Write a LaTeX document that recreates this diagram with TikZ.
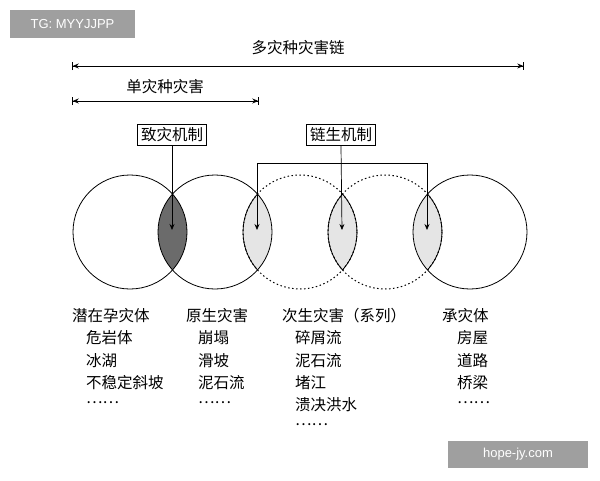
\documentclass[tikz,border=0pt]{standalone}
\usepackage{fontspec}
\setmainfont{Noto Sans CJK SC}
\newfontfamily\wm{Liberation Sans}
\usetikzlibrary{arrows.meta}
\begin{document}
\begin{tikzpicture}[x=1pt,y=-1pt,
  txt/.style={font=\fontsize{15.5}{17}\selectfont,inner sep=0pt,anchor=west},
  mbox/.style={draw,line width=0.8pt,font=\fontsize{15.5}{17}\selectfont,inner sep=3.5pt,fill=white},
  arr/.style={-{Stealth[length=6pt,width=5pt]},line width=0.7pt},
  circ/.style={line width=0.8pt},
  dcirc/.style={line width=1pt,dash pattern=on 1.5pt off 2.5pt},
  wmark/.style={fill=gray!75,text=white,font=\wm\fontsize{13}{15}\selectfont,inner sep=0pt}]
\useasboundingbox (0,0) rectangle (600,480);
\fill[white] (0,0) rectangle (600,480);
% lenses
\def\r{57}
\foreach \a/\b/\c in {130/215/black!58,215/300/gray!20,300/385/gray!20,385/470/gray!20}{
  \begin{scope}
    \clip (\a,232) circle (\r);
    \fill[\c] (\b,232) circle (\r);
  \end{scope}}
\draw[circ] (130,232) circle (\r);
\draw[circ] (215,232) circle (\r);
\draw[dcirc] (300,232) circle (\r);
\draw[dcirc] (385,232) circle (\r);
\draw[circ] (470,232) circle (\r);
\begin{scope}\clip (215,232) circle (\r); \draw[circ] (300,232) circle (\r);\end{scope}
\begin{scope}\clip (385,232) circle (\r); \draw[circ] (300,232) circle (\r);\end{scope}
\begin{scope}\clip (300,232) circle (\r); \draw[circ] (385,232) circle (\r);\end{scope}
\begin{scope}\clip (470,232) circle (\r); \draw[circ] (385,232) circle (\r);\end{scope}
% top dimension lines
\node[font=\fontsize{15.5}{17}\selectfont,inner sep=1pt] (t1) at (298,48) {多灾种灾害链};
\coordinate (a1) at (72,66); \coordinate (b1) at (524,66);
\draw[{Bar[width=8pt]Stealth[length=6pt,width=5pt]}-{Stealth[length=6pt,width=5pt]Bar[width=8pt]},line width=0.7pt] (a1) -- (b1);
\node[font=\fontsize{15.5}{17}\selectfont,inner sep=1pt] (t2) at (165,87) {单灾种灾害};
\coordinate (a2) at (72,101); \coordinate (b2) at (259,101);
\draw[{Bar[width=8pt]Stealth[length=6pt,width=5pt]}-{Stealth[length=6pt,width=5pt]Bar[width=8pt]},line width=0.7pt] (a2) -- (b2);
% mechanism boxes
\node[mbox] (m1) at (172,135) {致灾机制};
\node[mbox] (m2) at (341,135) {链生机制};
\coordinate (l1) at (172,230);
\coordinate (l2) at (257,230);
\coordinate (l3) at (342,230);
\coordinate (l4) at (427,230);
\coordinate (k2) at (257,163);
\coordinate (k4) at (427,163);
\draw[arr] (m1.south) -- (l1);
\draw[arr] (m2.south) -- (l3);
\draw[line width=0.7pt] (k2) -- (k4);
\draw[arr] (k2) -- (l2);
\draw[arr] (k4) -- (l4);
% lists
\node[txt] (c1) at (72,316) {潜在孕灾体};
\node[txt] at (86,338) {危岩体};
\node[txt] at (86,361) {冰湖};
\node[txt] at (86,383) {不稳定斜坡};
\node[txt] at (86,403) {……};
\node[txt] (c2) at (186,316) {原生灾害};
\node[txt] at (198,338) {崩塌};
\node[txt] at (198,361) {滑坡};
\node[txt] at (198,383) {泥石流};
\node[txt] at (198,403) {……};
\node[txt] (c3) at (282,316) {次生灾害（系列）};
\node[txt] at (295,338) {碎屑流};
\node[txt] at (295,361) {泥石流};
\node[txt] at (295,383) {堵江};
\node[txt] at (295,405) {溃决洪水};
\node[txt] at (295,425) {……};
\node[txt] (c4) at (442,316) {承灾体};
\node[txt] at (457,338) {房屋};
\node[txt] at (457,361) {道路};
\node[txt] at (457,383) {桥梁};
\node[txt] at (457,403) {……};
% watermarks
\node[wmark,minimum width=125pt,minimum height=28pt] (w1) at (72.5,24) {TG: MYYJJPP};
\node[wmark,minimum width=140pt,minimum height=27pt] (w2) at (518,454.5) {hope-jy.com};
\end{tikzpicture}
\end{document}
